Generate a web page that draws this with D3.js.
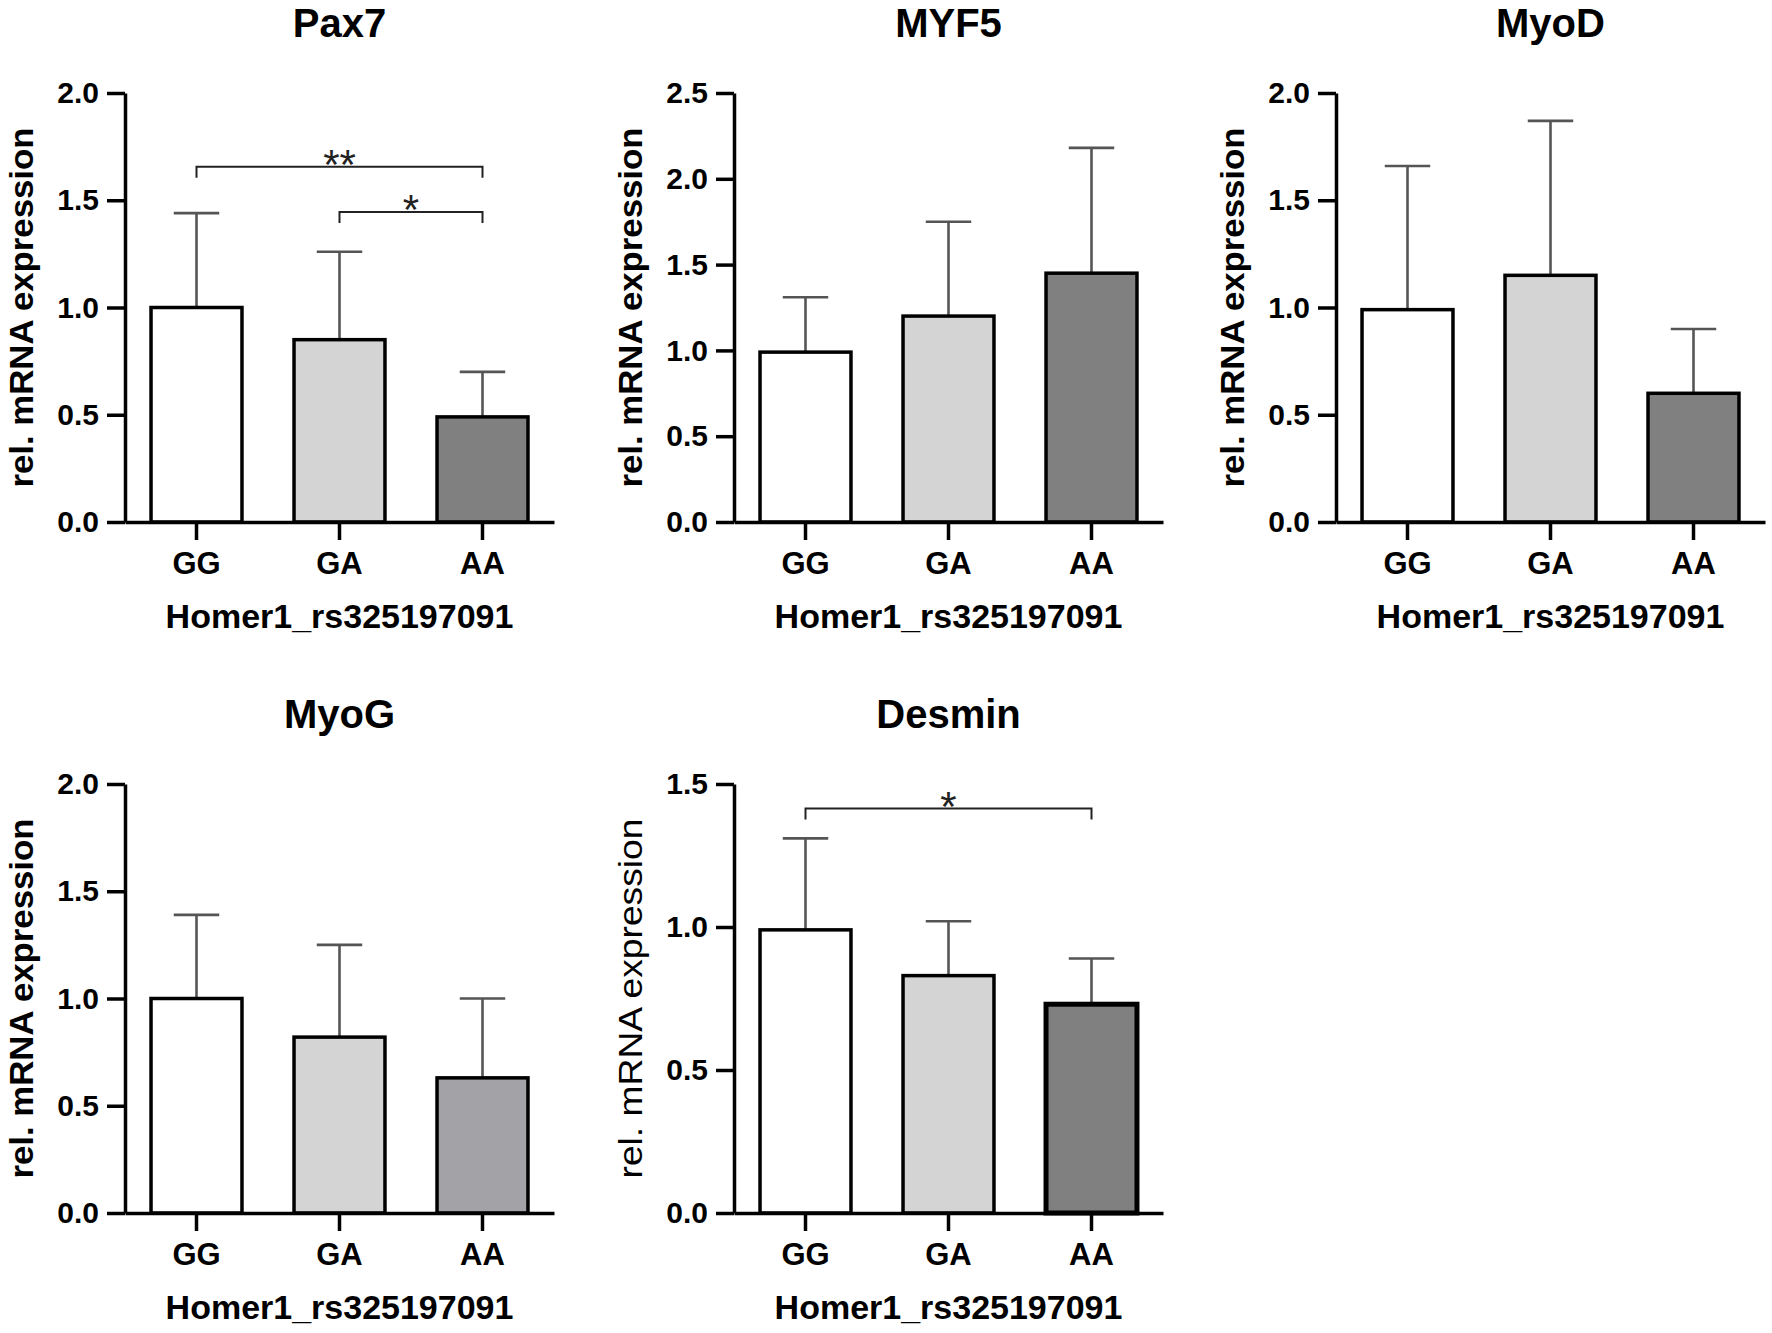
<!DOCTYPE html>
<html>
<head>
<meta charset="utf-8">
<script src="https://cdn.jsdelivr.net/npm/d3@7"></script>
<style>
  html, body { margin: 0; padding: 0; background: #fff; }
  svg { display: block; font-family: "Liberation Sans", Arial, Helvetica, sans-serif; }
</style>
</head>
<body>
<svg id="chart" width="1772" height="1333"></svg>
<script>
// ---- data ----
var genotypes = ["GG", "GA", "AA"];
var genes = ["Pax7", "MYF5", "MyoD", "MyoG", "Desmin"];
var yMaxes = [2.0, 2.5, 2.0, 2.0, 1.5];

var pax7Mean = [1.00, 0.85, 0.49];
var pax7Sd = [0.44, 0.41, 0.21];
var myf5Mean = [0.99, 1.20, 1.45];
var myf5Sd = [0.32, 0.55, 0.73];
var myodMean = [0.99, 1.15, 0.60];
var myodSd = [0.67, 0.72, 0.30];
var myogMean = [1.00, 0.82, 0.63];
var myogSd = [0.39, 0.43, 0.37];
var desminMean = [0.99, 0.83, 0.73];
var desminSd = [0.32, 0.19, 0.16];

// significance brackets: [from, to, bracket level, label]
var pax7Sig = [["GG", "AA", 1.656, "**"], ["GA", "AA", 1.445, "*"]];
var desminSig = [["GG", "AA", 1.414, "*"]];

var xLabel = "Homer1_rs325197091";
var yLabel = "rel. mRNA expression";
var fills = ["#ffffff", "#d4d4d4", "#808080"];

var means = [pax7Mean, myf5Mean, myodMean, myogMean, desminMean];
var sds = [pax7Sd, myf5Sd, myodSd, myogSd, desminSd];
var sigs = [pax7Sig, [], [], [], desminSig];

// ---- layout ----
var svg = d3.select("#chart");
var axisX = [125, 734, 1336],
    rowTop = [93, 784],
    rowBottom = [522, 1213],
    plotW = 429;

function drawPanel(i) {
    var col = i % 3, row = Math.floor(i / 3);
    var x0 = axisX[col], top = rowTop[row], bottom = rowBottom[row];
    var g = svg.append("g").attr("class", "panel-" + genes[i]);

    var x = d3.scaleBand()
        .domain(genotypes)
        .range([x0, x0 + plotW])
        .paddingInner(0.364)
        .paddingOuter(0.182);
    var y = d3.scaleLinear()
        .domain([0, yMaxes[i]])
        .range([bottom, top]);

    var rows = genotypes.map(function (d, k) {
        return { cat: d, mean: means[i][k], sd: sds[i][k], fill: fills[k] };
    });
    if (genes[i] == "MyoG") rows[2].fill = "#a3a3a7"; // lighter AA bar in this panel

    // error bars (upper only)
    var eb = g.selectAll(".err").data(rows).join("g").attr("class", "err")
        .attr("stroke", "#555").attr("stroke-width", 2.6);
    eb.append("line")
        .attr("x1", d => x(d.cat) + x.bandwidth() / 2)
        .attr("x2", d => x(d.cat) + x.bandwidth() / 2)
        .attr("y1", d => y(d.mean))
        .attr("y2", d => y(d.mean + d.sd));
    eb.append("line")
        .attr("x1", d => x(d.cat) + x.bandwidth() / 4)
        .attr("x2", d => x(d.cat) + x.bandwidth() * 3 / 4)
        .attr("y1", d => y(d.mean + d.sd))
        .attr("y2", d => y(d.mean + d.sd));

    // bars
    g.selectAll(".bar").data(rows).join("rect").attr("class", "bar")
        .attr("x", d => x(d.cat))
        .attr("width", x.bandwidth())
        .attr("y", d => y(d.mean))
        .attr("height", d => y(0) - y(d.mean))
        .attr("fill", d => d.fill)
        .attr("stroke", "#000")
        .attr("stroke-width", (d, k) => (genes[i] == "Desmin" && k == 2) ? 5 : 3.5);

    // axes
    var yAxis = g.append("g")
        .attr("transform", "translate(" + x0 + ",0)")
        .call(d3.axisLeft(y).tickValues(d3.range(0, yMaxes[i] + 0.01, 0.5))
            .tickFormat(d3.format(".1f")).tickSize(18).tickSizeOuter(0).tickPadding(8));
    var xAxis = g.append("g")
        .attr("transform", "translate(0," + bottom + ")")
        .call(d3.axisBottom(x).tickSize(18).tickSizeOuter(0).tickPadding(12));
    [yAxis, xAxis].forEach(function (a) {
        a.select(".domain").attr("stroke", "#000").attr("stroke-width", 3.5);
        a.selectAll(".tick line").attr("stroke", "#000").attr("stroke-width", 3.5);
        a.selectAll("text").attr("fill", "#000").attr("font-family", null)
            .attr("font-weight", "bold");
    });
    yAxis.selectAll("text").attr("font-size", 30);
    xAxis.selectAll("text").attr("font-size", 31);

    // significance brackets
    sigs[i].forEach(function (s) {
        var xa = x(s[0]) + x.bandwidth() / 2, xb = x(s[1]) + x.bandwidth() / 2, yy = y(s[2]);
        g.append("path")
            .attr("d", "M" + xa + "," + (yy + 11) + "V" + yy + "H" + xb + "V" + (yy + 11))
            .attr("fill", "none").attr("stroke", "#222").attr("stroke-width", 2);
        g.append("text")
            .attr("x", (xa + xb) / 2).attr("y", yy + 12)
            .attr("text-anchor", "middle").attr("font-size", 42).attr("fill", "#222")
            .text(s[3]);
    });

    // titles
    g.append("text")
        .attr("x", x0 + plotW / 2).attr("y", top - 56)
        .attr("text-anchor", "middle").attr("font-size", 40).attr("font-weight", "bold")
        .text(genes[i]);
    g.append("text")
        .attr("x", x0 + plotW / 2).attr("y", bottom + 106)
        .attr("text-anchor", "middle").attr("font-size", 34).attr("font-weight", "bold")
        .text(xLabel);
    g.append("text")
        .attr("transform", "translate(" + (x0 - 92) + "," + ((top + bottom) / 2) + ") rotate(-90)")
        .attr("text-anchor", "middle").attr("font-size", 33)
        .attr("font-weight", genes[i] == "Desmin" ? "normal" : "bold")
        .attr("textLength", 360).attr("lengthAdjust", "spacingAndGlyphs")
        .text(yLabel);
}

genes.forEach(function (d, i) { drawPanel(i); });
</script>
</body>
</html>
